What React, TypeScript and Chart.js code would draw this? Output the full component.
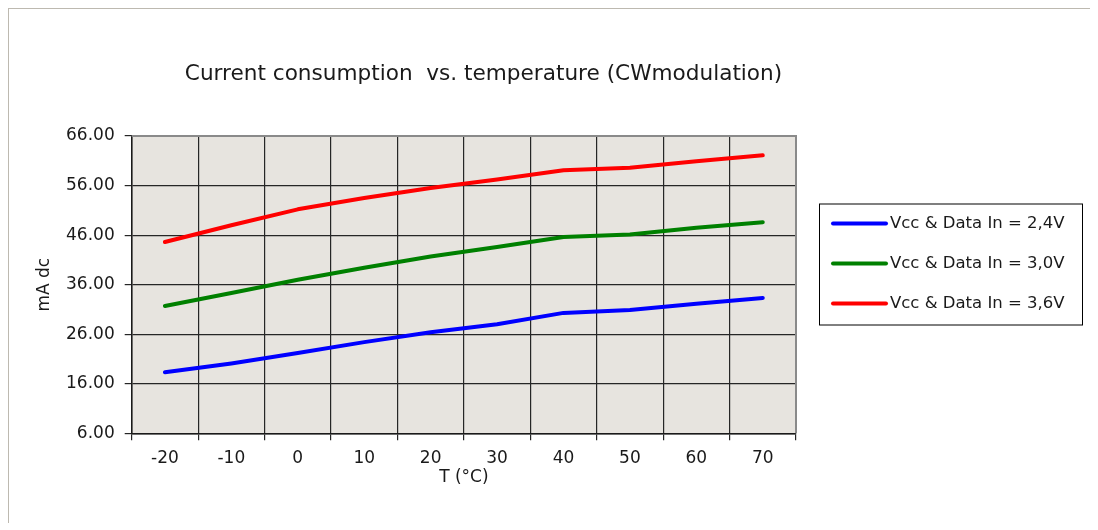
import React, { useEffect, useRef } from "react";
import { Chart, registerables } from "chart.js";

Chart.register(...registerables);

const TITLE = "Current consumption  vs. temperature (CWmodulation)";
const X_TITLE = "T (°C)";
const Y_TITLE = "mA dc";
const categories = ["-20", "-10", "0", "10", "20", "30", "40", "50", "60", "70"];
const series24 = [18.3, 20.1, 22.2, 24.4, 26.4, 28.0, 30.3, 30.9, 32.15, 33.3];
const series30 = [31.7, 34.3, 37.0, 39.4, 41.7, 43.6, 45.6, 46.1, 47.5, 48.6];
const series36 = [44.6, 48.0, 51.2, 53.5, 55.5, 57.2, 59.1, 59.6, 60.9, 62.1];
const seriesLabels = ["Vcc & Data In = 2,4V", "Vcc & Data In = 3,0V", "Vcc & Data In = 3,6V"];
const seriesColors = ["#0000ff", "#008000", "#ff0000"];
const Y_MIN = 6;
const Y_MAX = 66;
const Y_STEP = 10;

const W = 1082;
const H = 514;
const FONT = "'DejaVu Sans', sans-serif";

const decorPlugin = {
  id: "decor",
  beforeDraw(chart: any) {
    const { ctx, chartArea: a } = chart;
    ctx.save();
    ctx.fillStyle = "#e7e4df";
    ctx.fillRect(a.left, a.top, a.right - a.left, a.bottom - a.top);
    ctx.restore();
  },
  afterDraw(chart: any) {
    const { ctx, chartArea: a } = chart;
    ctx.save();
    // plot frame top/right
    ctx.strokeStyle = "#8a8a8a";
    ctx.lineWidth = 2;
    ctx.beginPath();
    ctx.moveTo(a.left, a.top);
    ctx.lineTo(a.right, a.top);
    ctx.lineTo(a.right, a.bottom);
    ctx.stroke();
    // title
    ctx.fillStyle = "#1a1a1a";
    ctx.font = `21.6px ${FONT}`;
    ctx.textAlign = "center";
    ctx.textBaseline = "middle";
    ctx.fillText(TITLE, 474.5, 65);
    // legend
    const bx = 810, by = 194.5, bw = 263, bh = 121;
    ctx.strokeStyle = "#000";
    ctx.lineWidth = 1;
    ctx.strokeRect(bx + 0.5, by + 0.5, bw, bh);
    ctx.font = `16.5px ${FONT}`;
    ctx.textAlign = "left";
    chart.data.datasets.forEach((ds: any, i: number) => {
      const y = 214.5 + i * 40;
      ctx.strokeStyle = ds.borderColor;
      ctx.lineWidth = 4;
      ctx.lineCap = "round";
      ctx.beginPath();
      ctx.moveTo(824, y);
      ctx.lineTo(877, y);
      ctx.stroke();
      ctx.fillStyle = "#1a1a1a";
      ctx.fillText(ds.label, 881, y);
    });
    ctx.restore();
  },
};

export default function App() {
  const ref = useRef<HTMLCanvasElement | null>(null);
  useEffect(() => {
    if (!ref.current) return;
    const datasets = [series24, series30, series36].map((d, i) => ({
      label: seriesLabels[i],
      data: d,
      borderColor: seriesColors[i],
      backgroundColor: seriesColors[i],
      borderWidth: 4,
      pointRadius: 0,
      tension: 0,
      borderCapStyle: "round" as const,
      borderJoinStyle: "round" as const,
    }));
    const chart = new Chart(ref.current, {
      type: "line",
      data: { labels: categories, datasets },
      plugins: [decorPlugin],
      options: {
        animation: false,
        responsive: false,
        devicePixelRatio: 1,
        layout: { padding: { left: 0, right: W - 787, top: 127, bottom: H - 496.3 } },
        plugins: {
          legend: { display: false },
          title: { display: false },
          tooltip: { enabled: false },
        },
        scales: {
          x: {
            type: "category",
            offset: true,
            grid: { offset: true, color: "#262626", lineWidth: 1.2, tickLength: 7, drawTicks: true },
            border: { color: "#1a1a1a", width: 1.5 },
            ticks: { color: "#1a1a1a", font: { family: FONT, size: 17 }, padding: 8, maxRotation: 0, autoSkip: false },
            title: { display: true, text: X_TITLE, color: "#1a1a1a", font: { family: FONT, size: 17 }, padding: { top: 0, bottom: 18 } },
            afterFit: (s: any) => { s.height = 72; },
          },
          y: {
            min: Y_MIN,
            max: Y_MAX,
            grid: { color: "#262626", lineWidth: 1.2, tickLength: 7 },
            border: { color: "#1a1a1a", width: 1.5 },
            ticks: {
              stepSize: Y_STEP,
              color: "#1a1a1a",
              font: { family: FONT, size: 17 },
              padding: 10,
              callback: (v: any) => Number(v).toFixed(2),
            },
            title: { display: true, text: Y_TITLE, color: "#1a1a1a", font: { family: FONT, size: 17 }, padding: { top: 25.8, bottom: 0 } },
            afterFit: (s: any) => { s.width = 122.7; },
          },
        },
      },
    });
    return () => chart.destroy();
  }, []);
  return (
    <div
      style={{
        width: W,
        height: H,
        borderTop: "1px solid #bdb9b0",
        borderLeft: "1px solid #bdb9b0",
        borderRight: "1px solid #bdb9b0",
        background: "#fff",
      }}
    >
      <canvas ref={ref} width={W} height={H} style={{ display: "block", width: W, height: H }} />
    </div>
  );
}
